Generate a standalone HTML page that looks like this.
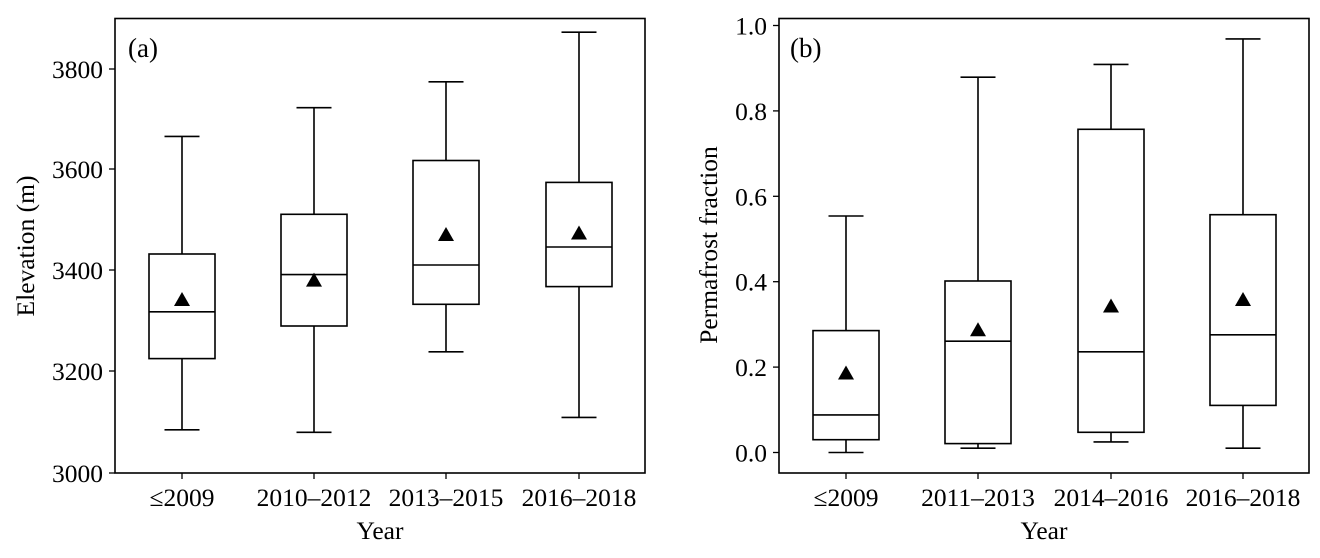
<!DOCTYPE html>
<html><head><meta charset="utf-8"><style>body{margin:0;background:#fff}svg{display:block}text{font-family:"Liberation Serif",serif;fill:#000}</style></head><body>
<svg width="1320" height="558" viewBox="0 0 1320 558" xmlns="http://www.w3.org/2000/svg">
<g stroke="#000" stroke-width="1.6" fill="none">
<rect x="115" y="18.5" width="530" height="454.5"/>
<rect x="779" y="18.5" width="530" height="454.5"/>
</g>
<g stroke="#000" stroke-width="1.3">
<line x1="109" y1="473" x2="115" y2="473"/><line x1="109" y1="371" x2="115" y2="371"/><line x1="109" y1="270" x2="115" y2="270"/><line x1="109" y1="169" x2="115" y2="169"/><line x1="109" y1="69" x2="115" y2="69"/>
<line x1="182" y1="473" x2="182" y2="479"/><line x1="314" y1="473" x2="314" y2="479"/><line x1="446" y1="473" x2="446" y2="479"/><line x1="579" y1="473" x2="579" y2="479"/>
<line x1="773" y1="452.5" x2="779" y2="452.5"/><line x1="773" y1="367.1" x2="779" y2="367.1"/><line x1="773" y1="281.7" x2="779" y2="281.7"/><line x1="773" y1="196.3" x2="779" y2="196.3"/><line x1="773" y1="110.9" x2="779" y2="110.9"/><line x1="773" y1="25.5" x2="779" y2="25.5"/>
<line x1="846" y1="473" x2="846" y2="479"/><line x1="978" y1="473" x2="978" y2="479"/><line x1="1111" y1="473" x2="1111" y2="479"/><line x1="1243" y1="473" x2="1243" y2="479"/>
</g>
<g font-size="25.5" text-anchor="end">
<text x="103" y="482">3000</text><text x="103" y="380">3200</text><text x="103" y="279">3400</text><text x="103" y="178">3600</text><text x="103" y="78">3800</text>
<text x="767" y="461.5">0.0</text><text x="767" y="376">0.2</text><text x="767" y="290.7">0.4</text><text x="767" y="205.3">0.6</text><text x="767" y="119.9">0.8</text><text x="767" y="34.5">1.0</text>
</g>
<g font-size="25.5" text-anchor="middle">
<text x="182" y="506">≤2009</text><text x="314" y="506">2010–2012</text><text x="446" y="506">2013–2015</text><text x="579" y="506">2016–2018</text>
<text x="846" y="506">≤2009</text><text x="978" y="506">2011–2013</text><text x="1111" y="506">2014–2016</text><text x="1243" y="506">2016–2018</text>
<text x="380" y="539">Year</text><text x="1044" y="539">Year</text>
<text transform="translate(34,246) rotate(-90)">Elevation (m)</text>
<text transform="translate(717,245) rotate(-90)">Permafrost fraction</text>
</g>
<text x="128" y="57" font-size="27">(a)</text>
<text x="790" y="57" font-size="27">(b)</text>
<g stroke="#000" stroke-width="1.6" fill="none">
<path d="M182 136.4V254M182 358.6V429.8M164.5 136.4H199.5M164.5 429.8H199.5"/><rect x="149" y="254" width="66" height="104.6"/><path d="M149 311.8H215"/>
<path d="M314 107.7V214.3M314 326V432.3M296.5 107.7H331.5M296.5 432.3H331.5"/><rect x="281" y="214.3" width="66" height="111.7"/><path d="M281 274.6H347"/>
<path d="M446 81.8V160.5M446 304.3V351.8M428.5 81.8H463.5M428.5 351.8H463.5"/><rect x="413" y="160.5" width="66" height="143.8"/><path d="M413 265H479"/>
<path d="M579 32.2V182.4M579 286.6V417.4M561.5 32.2H596.5M561.5 417.4H596.5"/><rect x="546" y="182.4" width="66" height="104.2"/><path d="M546 247H612"/>
<path d="M846 216V330.6M846 439.7V452.5M828.5 216H863.5M828.5 452.5H863.5"/><rect x="813" y="330.6" width="66" height="109.1"/><path d="M813 414.9H879"/>
<path d="M978 77.2V281M978 443.6V448.2M960.5 77.2H995.5M960.5 448.2H995.5"/><rect x="945" y="281" width="66" height="162.6"/><path d="M945 341.2H1011"/>
<path d="M1111 64.4V129.3M1111 432.3V441.9M1093.5 64.4H1128.5M1093.5 441.9H1128.5"/><rect x="1078" y="129.3" width="66" height="303"/><path d="M1078 351.8H1144"/>
<path d="M1243 38.9V214.7M1243 405.4V448.2M1225.5 38.9H1260.5M1225.5 448.2H1260.5"/><rect x="1210" y="214.7" width="66" height="190.7"/><path d="M1210 334.8H1276"/>
</g>
<g fill="#000">
<path d="M182 292l8 14h-16z"/><path d="M314 272.6l8 14h-16z"/><path d="M446 227l8 14h-16z"/><path d="M579 225.5l8 14h-16z"/>
<path d="M846 365.5l8 14h-16z"/><path d="M978 322.2l8 14h-16z"/><path d="M1111 298.5l8 14h-16z"/><path d="M1243 292l8 14h-16z"/>
</g>
</svg>
</body></html>
